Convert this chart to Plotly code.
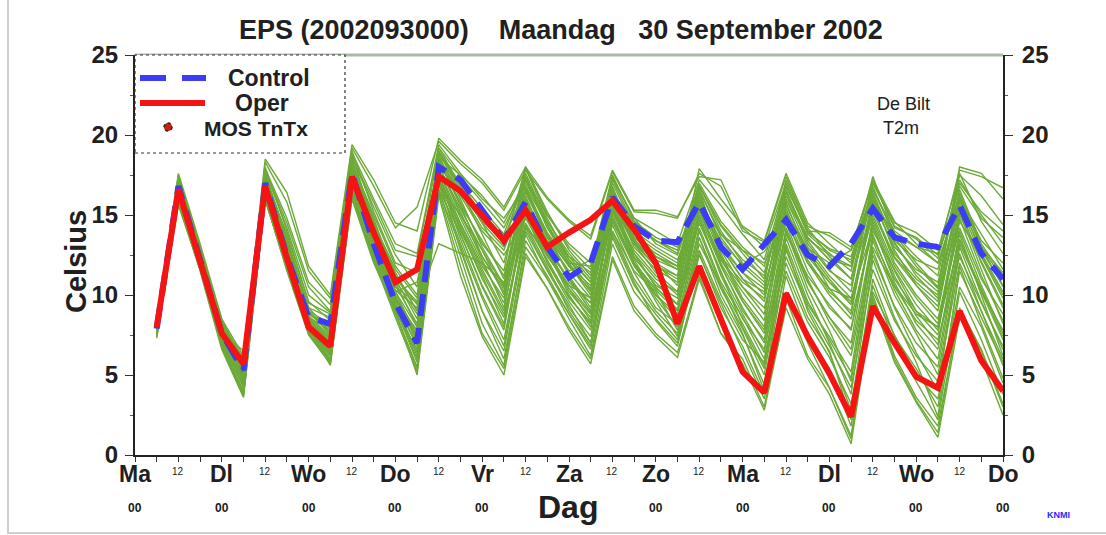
import plotly.graph_objects as go

# ---------------- data ----------------
forecast_hours = [6, 12, 18, 24, 30, 36, 42, 48, 54, 60, 66, 72, 78, 84, 90, 96, 102, 108, 114, 120,
                  126, 132, 138, 144, 150, 156, 162, 168, 174, 180, 186, 192, 198, 204, 210, 216, 222, 228, 234, 240]

control = [7.9, 16.8, 12.2, 7.6, 5.3, 17.0, 12.4, 8.6, 8.2, 17.6, 13.2, 9.5, 7.0, 18.0, 17.2, 15.3, 13.4, 15.8, 13.0, 11.1,
           12.0, 16.1, 14.3, 13.4, 13.3, 15.8, 13.0, 11.6, 13.1, 14.7, 12.5, 11.8, 13.2, 15.4, 13.6, 13.2, 13.0, 15.6, 12.6, 11.0]

oper = [8.0, 16.6, 12.1, 7.6, 5.7, 16.8, 12.3, 8.0, 6.8, 17.4, 13.9, 10.8, 11.6, 17.4, 16.5, 14.9, 13.4, 15.3, 13.0, 13.9,
        14.7, 15.9, 14.1, 12.0, 8.2, 11.8, 8.6, 5.2, 3.9, 10.1, 7.4, 5.1, 2.4, 9.3, 7.0, 4.9, 4.2, 9.0, 5.9, 4.0]

members = [
    [7.8, 16.9, 12.4, 7.8, 5.2, 17.2, 12.6, 8.8, 8.0, 17.8, 13.4, 9.8, 7.3, 18.3, 17.0, 15.0, 13.2, 16.0, 13.4, 11.5,
     12.2, 16.4, 14.6, 13.6, 13.0, 15.9, 13.4, 11.9, 12.7, 15.0, 12.9, 12.0, 12.8, 15.9, 13.8, 13.0, 12.6, 16.2, 13.0, 11.4],
    [8.2, 17.5, 13.0, 8.2, 5.8, 18.3, 15.8, 11.5, 9.8, 19.2, 16.8, 14.2, 15.5, 19.6, 18.2, 17.0, 15.3, 17.8, 16.0, 14.6,
     13.5, 17.7, 15.2, 15.1, 14.8, 17.6, 16.8, 14.0, 13.3, 17.4, 14.3, 13.7, 12.8, 17.2, 14.2, 13.6, 12.5, 17.8, 17.4, 16.7],
    [8.1, 16.4, 12.0, 7.4, 5.5, 16.6, 12.0, 7.9, 6.5, 17.1, 13.5, 10.2, 10.8, 17.0, 14.2, 11.0, 8.6, 14.5, 12.2, 9.8,
     8.3, 14.0, 11.5, 10.2, 7.8, 12.8, 9.7, 7.2, 5.8, 11.5, 8.3, 6.1, 3.2, 10.2, 7.5, 5.0, 3.5, 10.5, 8.0, 4.5],
    [7.6, 16.0, 11.8, 7.0, 4.4, 16.2, 12.0, 7.6, 6.0, 16.5, 12.6, 9.3, 6.2, 16.8, 15.0, 12.8, 10.5, 15.0, 12.5, 10.4,
     8.8, 15.2, 12.6, 10.5, 9.1, 14.9, 11.2, 8.5, 6.6, 13.2, 9.6, 7.2, 4.8, 12.5, 9.3, 7.0, 5.5, 13.2, 10.2, 7.8],
    [7.9, 17.2, 12.8, 8.3, 6.0, 17.5, 13.2, 9.0, 7.5, 18.2, 14.8, 11.0, 8.5, 19.0, 16.6, 13.8, 11.0, 16.5, 13.8, 11.8,
     10.3, 16.8, 13.5, 12.0, 11.2, 16.8, 14.3, 12.6, 11.0, 16.5, 13.2, 11.5, 10.6, 16.4, 13.3, 11.2, 9.8, 15.0, 12.1, 9.4],
    [7.4, 16.2, 11.6, 6.8, 3.8, 16.0, 11.6, 7.6, 5.8, 16.2, 12.2, 8.8, 5.5, 16.5, 13.0, 9.0, 6.0, 13.0, 11.0, 8.5,
     6.2, 13.2, 10.2, 8.5, 7.0, 12.5, 9.5, 6.5, 3.5, 10.2, 7.0, 4.2, 1.2, 10.0, 6.2, 3.6, 1.8, 9.0, 6.5, 3.0],
    [8.3, 17.0, 12.5, 8.0, 5.0, 17.8, 14.5, 10.5, 9.0, 18.6, 15.5, 12.5, 10.5, 18.6, 17.5, 16.2, 14.5, 17.2, 15.0, 13.2,
     12.0, 16.0, 14.0, 13.0, 12.2, 15.6, 13.8, 12.8, 12.0, 14.6, 12.0, 10.0, 8.5, 14.0, 11.6, 9.4, 7.8, 14.6, 12.5, 10.0],
    [7.7, 16.5, 12.0, 7.5, 5.4, 16.8, 12.5, 8.2, 6.8, 17.3, 13.0, 9.6, 7.8, 17.8, 14.8, 12.0, 9.5, 16.8, 13.2, 10.8,
     9.5, 17.3, 14.8, 14.0, 13.2, 17.2, 15.6, 13.8, 12.2, 17.0, 13.8, 12.6, 11.5, 17.0, 14.3, 13.5, 12.3, 17.0, 15.2, 14.0],
    [8.0, 16.7, 12.3, 7.7, 6.5, 17.0, 12.8, 8.5, 7.2, 17.5, 13.6, 10.3, 9.2, 18.2, 16.2, 14.0, 12.5, 14.8, 12.4, 10.6,
     9.8, 15.4, 12.8, 11.2, 10.0, 15.2, 12.2, 10.5, 9.2, 14.5, 11.0, 8.3, 6.2, 13.0, 10.5, 8.4, 7.2, 12.4, 9.5, 6.8],
    [7.5, 15.8, 11.5, 6.6, 3.6, 15.9, 11.8, 8.0, 5.6, 16.0, 12.0, 9.0, 5.0, 16.2, 11.2, 7.4, 5.0, 12.4, 10.4, 7.8,
     5.7, 12.2, 9.0, 7.4, 6.1, 11.0, 7.6, 5.7, 2.8, 9.2, 6.0, 3.8, 0.7, 9.6, 5.8, 3.3, 1.1, 8.6, 6.0, 2.5],
    [8.0, 17.4, 12.9, 8.5, 5.6, 17.6, 13.6, 9.2, 8.6, 19.0, 15.2, 12.0, 11.4, 19.2, 16.8, 14.5, 13.0, 18.0, 15.0, 13.0,
     11.6, 17.0, 14.2, 12.4, 11.8, 16.4, 12.8, 10.5, 8.8, 15.8, 12.4, 10.8, 9.6, 15.2, 12.3, 10.6, 9.0, 16.0, 13.8, 11.6],
    [7.8, 16.3, 12.1, 7.3, 4.8, 16.5, 11.9, 7.8, 6.2, 16.8, 12.8, 9.0, 6.6, 17.4, 13.5, 10.0, 7.2, 14.0, 11.5, 9.2,
     7.4, 14.6, 11.8, 10.0, 8.5, 14.2, 10.8, 8.6, 6.0, 12.8, 9.4, 7.4, 5.2, 13.8, 10.3, 7.8, 6.0, 13.5, 10.2, 7.2],
    [8.2, 17.0, 12.7, 8.0, 5.9, 18.0, 14.0, 9.5, 8.8, 18.8, 14.4, 11.4, 9.0, 19.0, 16.8, 14.5, 12.0, 17.2, 14.2, 12.4,
     10.8, 16.2, 13.3, 11.8, 11.2, 17.9, 16.0, 14.3, 13.4, 17.6, 14.5, 13.2, 12.0, 17.4, 13.8, 12.0, 10.5, 18.0, 17.6, 16.0],
    [7.6, 16.1, 11.9, 7.2, 4.2, 16.4, 12.1, 7.8, 6.3, 16.6, 13.2, 9.8, 7.5, 17.6, 14.0, 11.2, 8.2, 15.5, 12.6, 10.2,
     8.6, 15.8, 12.4, 10.6, 9.8, 14.5, 11.5, 8.0, 5.4, 14.2, 10.8, 8.6, 7.0, 14.8, 11.5, 9.0, 7.5, 15.2, 11.6, 8.2],
    [8.1, 16.8, 12.4, 7.9, 5.1, 17.3, 12.9, 8.6, 7.8, 18.0, 14.0, 10.8, 8.0, 18.4, 15.8, 13.2, 11.5, 18.0, 15.2, 12.8,
     11.2, 16.6, 13.4, 12.0, 10.6, 15.6, 13.0, 11.0, 10.2, 16.2, 13.6, 12.2, 11.8, 16.2, 12.6, 11.0, 10.0, 16.6, 13.2, 11.2],
    [7.7, 16.6, 12.2, 7.6, 5.5, 16.9, 12.4, 8.3, 6.9, 17.6, 13.4, 10.0, 7.1, 18.0, 15.4, 12.8, 10.0, 16.2, 13.0, 11.0,
     9.0, 15.0, 12.0, 10.4, 9.4, 16.0, 13.0, 11.4, 10.4, 15.4, 12.2, 10.2, 9.0, 15.6, 12.0, 10.0, 8.5, 14.2, 11.0, 8.8],
    [7.9, 16.6, 12.0, 7.6, 5.0, 16.7, 12.2, 8.1, 6.6, 17.2, 13.0, 9.5, 6.8, 17.2, 12.8, 9.0, 6.5, 13.8, 11.0, 8.8,
     6.8, 14.8, 12.0, 9.6, 7.4, 13.6, 10.0, 7.5, 4.4, 12.0, 8.6, 6.5, 2.2, 11.0, 7.4, 5.4, 3.0, 11.5, 8.6, 5.8],
    [8.0, 17.1, 12.6, 8.1, 5.7, 17.4, 13.2, 8.9, 7.6, 18.2, 14.5, 11.6, 9.8, 18.8, 17.0, 15.4, 13.8, 17.6, 14.6, 12.6,
     11.0, 17.4, 14.8, 13.2, 12.5, 16.6, 13.8, 12.2, 11.2, 16.0, 13.5, 12.5, 11.8, 16.6, 13.8, 12.4, 11.2, 17.2, 15.0, 13.2],
    [7.5, 15.9, 11.7, 7.0, 4.0, 16.2, 11.7, 7.7, 5.9, 16.4, 12.4, 9.2, 6.0, 16.6, 13.8, 10.5, 7.8, 15.4, 12.0, 9.6,
     7.8, 15.6, 12.0, 9.8, 8.0, 14.0, 10.6, 7.6, 4.0, 13.6, 10.0, 7.0, 3.8, 12.8, 9.2, 6.4, 4.0, 13.0, 9.6, 6.6],
    [8.4, 17.6, 13.2, 8.5, 6.2, 18.5, 16.4, 11.8, 10.0, 19.4, 17.2, 14.5, 14.0, 19.8, 18.4, 17.2, 15.5, 18.0, 16.1, 14.7,
     13.7, 17.8, 15.3, 15.3, 14.9, 17.4, 17.2, 14.2, 13.0, 17.0, 14.0, 13.9, 13.0, 17.0, 14.5, 13.9, 12.8, 17.5, 16.2, 14.4],
    [7.8, 16.4, 12.1, 7.4, 4.6, 16.3, 12.0, 7.9, 6.4, 16.9, 13.0, 9.4, 7.0, 17.8, 14.4, 11.6, 9.0, 16.0, 12.8, 10.0,
     8.0, 14.4, 11.4, 9.2, 8.2, 15.0, 11.8, 9.2, 7.0, 13.8, 11.2, 9.4, 7.8, 14.4, 10.8, 8.2, 6.6, 14.0, 10.6, 7.6],
    [8.1, 17.2, 12.7, 8.2, 5.3, 17.6, 13.0, 8.7, 7.4, 17.9, 14.2, 10.6, 8.2, 18.6, 15.6, 12.4, 10.2, 17.4, 14.2, 11.9,
     10.0, 16.0, 13.0, 11.6, 10.8, 16.2, 12.6, 9.8, 8.0, 15.2, 12.8, 10.4, 8.8, 16.0, 12.8, 10.6, 9.3, 15.6, 12.4, 9.8],
    [7.3, 15.6, 11.6, 6.7, 3.7, 16.0, 11.5, 7.5, 5.7, 16.3, 12.2, 8.6, 5.2, 16.4, 11.8, 7.6, 5.4, 12.6, 10.4, 8.0,
     6.0, 12.4, 9.3, 7.6, 6.4, 11.2, 7.6, 6.0, 3.0, 9.8, 6.2, 4.2, 1.0, 9.8, 6.0, 3.4, 1.4, 9.2, 6.6, 3.2],
    [7.9, 16.7, 12.3, 7.8, 5.2, 17.0, 12.6, 8.4, 7.0, 17.4, 13.8, 10.5, 9.5, 13.2, 12.6, 12.0, 10.8, 14.2, 12.8, 11.0,
     9.5, 15.8, 13.6, 12.4, 11.6, 16.8, 14.4, 12.8, 11.4, 16.4, 13.6, 12.2, 11.0, 15.4, 12.4, 10.8, 9.6, 16.4, 13.0, 10.5],
    [7.7, 16.8, 12.5, 7.9, 5.6, 17.1, 13.0, 8.9, 7.9, 18.4, 14.2, 10.9, 8.8, 18.7, 16.0, 13.0, 10.6, 17.9, 14.8, 12.2,
     10.4, 16.3, 13.6, 12.6, 11.8, 16.0, 13.0, 11.0, 9.6, 15.6, 12.8, 11.0, 9.4, 15.8, 13.0, 11.6, 10.8, 15.8, 12.8, 10.6],
    [7.6, 16.3, 11.9, 7.3, 4.9, 16.6, 12.2, 8.0, 6.6, 17.0, 13.3, 9.9, 7.7, 17.4, 14.5, 11.8, 9.8, 15.8, 12.9, 10.4,
     8.4, 15.2, 12.3, 10.8, 9.4, 15.3, 11.9, 9.0, 7.2, 14.8, 11.5, 9.2, 7.9, 14.6, 11.2, 8.7, 6.9, 13.8, 10.0, 6.2],
    [8.0, 16.9, 12.6, 8.0, 5.4, 17.3, 13.8, 9.6, 8.4, 18.3, 15.0, 11.8, 10.0, 18.5, 16.4, 14.2, 12.8, 16.4, 13.6, 11.8,
     10.6, 16.6, 13.8, 12.8, 12.0, 16.9, 14.0, 12.0, 10.8, 17.2, 14.2, 12.4, 11.0, 16.8, 13.6, 11.8, 10.4, 17.6, 14.6, 12.6],
    [7.5, 16.1, 11.8, 7.1, 4.3, 16.1, 11.9, 7.9, 6.0, 16.3, 12.5, 9.1, 5.8, 16.9, 13.2, 9.8, 6.8, 14.4, 11.8, 9.0,
     7.0, 14.0, 11.0, 9.0, 7.6, 13.6, 10.4, 7.9, 5.0, 13.0, 9.0, 6.4, 2.8, 12.2, 8.6, 5.8, 2.4, 11.8, 8.2, 4.8],
    [7.9, 17.0, 12.6, 8.1, 5.8, 17.7, 14.2, 10.0, 8.9, 18.6, 15.8, 12.8, 12.4, 19.2, 17.4, 15.8, 14.2, 17.0, 14.6, 12.4,
     11.4, 17.2, 14.4, 13.4, 12.8, 16.2, 13.2, 11.4, 10.0, 16.8, 14.0, 12.8, 12.2, 16.2, 13.4, 12.2, 11.6, 16.8, 14.8, 13.6],
    [7.8, 16.5, 12.2, 7.6, 5.1, 16.8, 12.3, 8.3, 6.9, 17.7, 13.8, 10.2, 7.4, 18.1, 15.2, 12.2, 9.2, 15.6, 12.7, 10.6,
     8.9, 14.8, 11.9, 10.3, 9.0, 14.7, 11.4, 8.8, 6.4, 14.0, 10.4, 7.8, 4.6, 13.4, 10.0, 7.6, 5.0, 12.6, 9.0, 5.6],
    [8.2, 17.3, 12.8, 8.3, 6.0, 17.9, 14.8, 10.8, 9.4, 18.9, 16.0, 13.2, 12.6, 19.4, 17.6, 16.0, 14.8, 16.8, 14.4, 12.2,
     10.8, 15.6, 13.2, 12.2, 11.6, 15.4, 12.2, 10.2, 8.4, 16.6, 13.4, 11.6, 10.2, 17.2, 14.6, 13.2, 12.0, 16.2, 13.0, 11.0],
    [7.6, 16.2, 12.0, 7.2, 4.5, 16.4, 12.1, 7.9, 6.2, 16.8, 12.9, 9.4, 6.4, 17.2, 13.8, 10.6, 8.0, 15.0, 12.0, 9.9,
     8.2, 15.4, 12.2, 10.0, 8.8, 15.4, 12.0, 9.6, 7.6, 14.0, 10.8, 8.6, 6.6, 13.6, 10.6, 8.8, 8.0, 14.8, 11.2, 8.4],
    [8.0, 16.8, 12.4, 7.8, 5.3, 17.2, 13.4, 9.2, 7.7, 17.8, 14.0, 11.0, 9.6, 18.9, 16.4, 14.6, 13.4, 17.4, 14.4, 12.0,
     10.2, 15.8, 12.6, 11.0, 10.2, 15.8, 12.4, 10.8, 9.8, 15.0, 12.0, 10.4, 9.8, 14.2, 11.0, 9.0, 8.0, 13.4, 10.4, 7.4],
    [7.7, 16.4, 12.0, 7.4, 4.7, 16.5, 12.0, 7.8, 6.4, 17.0, 13.0, 9.7, 7.2, 17.4, 14.2, 11.4, 8.8, 14.2, 11.6, 9.4,
     7.0, 13.6, 10.6, 8.8, 7.2, 13.2, 10.6, 8.2, 5.6, 12.4, 9.2, 6.8, 4.2, 11.6, 8.4, 6.2, 4.6, 12.0, 9.0, 6.0],
    [8.1, 17.1, 12.6, 8.0, 5.5, 17.4, 13.4, 9.0, 8.2, 18.4, 14.6, 11.2, 9.0, 18.0, 16.6, 15.0, 13.6, 16.6, 13.9, 12.0,
     11.8, 17.5, 14.6, 13.4, 12.6, 17.0, 14.6, 13.0, 11.8, 16.8, 13.9, 12.9, 12.4, 16.6, 14.0, 13.0, 12.0, 16.0, 13.4, 12.0],
    [7.4, 15.9, 11.6, 6.9, 3.9, 16.0, 11.6, 7.6, 5.7, 16.2, 12.3, 8.9, 5.4, 16.6, 12.4, 8.2, 5.6, 13.4, 11.2, 8.8,
     6.6, 13.8, 10.8, 8.4, 6.8, 12.6, 9.2, 6.8, 3.8, 11.2, 7.6, 5.4, 1.8, 10.6, 7.0, 4.6, 2.2, 10.2, 7.2, 3.8],
    [7.9, 16.6, 12.3, 7.7, 5.2, 17.0, 12.8, 8.6, 7.3, 17.9, 14.4, 11.2, 9.4, 18.4, 15.6, 13.4, 11.2, 16.6, 13.6, 11.4,
     9.8, 16.0, 13.2, 11.8, 11.0, 16.6, 13.6, 11.8, 10.6, 15.2, 12.6, 10.8, 9.4, 16.2, 13.2, 11.4, 10.2, 16.0, 12.6, 10.2],
    [7.8, 16.7, 12.3, 7.7, 5.4, 17.0, 12.6, 8.4, 7.1, 17.6, 13.6, 10.2, 8.0, 18.1, 15.0, 12.4, 10.4, 16.8, 13.8, 11.2,
     9.2, 16.4, 13.2, 11.4, 10.2, 16.6, 12.4, 9.6, 7.8, 16.0, 13.0, 11.2, 9.8, 15.0, 11.8, 9.8, 8.2, 15.4, 12.0, 9.2],
]

day_labels = ["Ma", "Dl", "Wo", "Do", "Vr", "Za", "Zo", "Ma", "Dl", "Wo", "Do"]
day_hours = [0, 24, 48, 72, 96, 120, 144, 168, 192, 216, 240]
midnight_hours = [0, 24, 48, 72, 96, 144, 168, 192, 216, 240]   # the one under "Dag" is hidden
noon_hours = [12, 36, 60, 84, 108, 132, 156, 180, 204, 228]
noon_label = "12"
midnight_label = "00"
tick_hours = list(range(0, 241, 6))
y_ticks = [0, 5, 10, 15, 20, 25]

title_text = "EPS (2002093000)\u00a0\u00a0\u00a0\u00a0Maandag\u00a0\u00a0\u00a030 September 2002"

# ---------------- geometry helpers (pixels -> paper) ----------------
W, H = 1106, 535
L, R, T, B = 135, 1003, 55, 455


def px(xp):
    return (xp - L) / (R - L)


def py(yp):
    return (B - yp) / (B - T)


FONT = "Liberation Sans, Arial, sans-serif"
GREEN = "rgb(108,170,56)"
BLUE = "rgb(60,60,245)"
RED = "rgb(245,20,20)"
INK = "#202020"

fig = go.Figure()

for m in members:
    fig.add_trace(go.Scatter(x=forecast_hours, y=m, mode="lines",
                             line=dict(color=GREEN, width=1.4), showlegend=False, hoverinfo="skip"))

fig.add_trace(go.Scatter(x=forecast_hours, y=control, mode="lines", name="Control",
                         line=dict(color=BLUE, width=6, dash="22px,12px"), showlegend=False))
fig.add_trace(go.Scatter(x=forecast_hours, y=oper, mode="lines", name="Oper",
                         line=dict(color=RED, width=6), showlegend=False))
# right-hand axis companion (MOS TnTx has no values in this chart)
fig.add_trace(go.Scatter(x=[forecast_hours[0]], y=[None], yaxis="y2", mode="markers", name="MOS TnTx",
                         marker=dict(color="rgb(200,30,20)", size=10), showlegend=False))

annotations = []
annotations.append(dict(text="<b>" + title_text + "</b>", x=px(561), y=py(30), xref="paper", yref="paper",
                        showarrow=False, font=dict(family=FONT, size=27, color=INK),
                        xanchor="center", yanchor="middle"))

for h, lab in zip(day_hours, day_labels):
    annotations.append(dict(text="<b>" + lab + "</b>", x=h, y=py(474), xref="x", yref="paper",
                            showarrow=False, font=dict(family=FONT, size=23, color=INK),
                            xanchor="center", yanchor="middle"))
for h in midnight_hours:
    annotations.append(dict(text="<b>" + midnight_label + "</b>", x=h, y=py(508), xref="x", yref="paper",
                            showarrow=False, font=dict(family=FONT, size=12, color=INK),
                            xanchor="center", yanchor="middle"))
for h in noon_hours:
    annotations.append(dict(text=noon_label, x=h, y=py(471), xref="x", yref="paper",
                            showarrow=False, font=dict(family=FONT, size=10, color=INK),
                            xanchor="center", yanchor="middle"))

annotations.append(dict(text="<b>Dag</b>", x=px(568), y=py(507), xref="paper", yref="paper", showarrow=False,
                        font=dict(family=FONT, size=32, color=INK), xanchor="center", yanchor="middle"))
annotations.append(dict(text="<b>Celsius</b>", x=px(76), y=py(262), xref="paper", yref="paper", showarrow=False,
                        textangle=-90, font=dict(family=FONT, size=29, color=INK),
                        xanchor="center", yanchor="middle"))
annotations.append(dict(text="De Bilt", x=px(903), y=py(104), xref="paper", yref="paper", showarrow=False,
                        font=dict(family=FONT, size=18, color=INK), xanchor="center", yanchor="middle"))
annotations.append(dict(text="T2m", x=px(901), y=py(128), xref="paper", yref="paper", showarrow=False,
                        font=dict(family=FONT, size=18, color=INK), xanchor="center", yanchor="middle"))
annotations.append(dict(text="<b>KNMI</b>", x=px(1058), y=py(515), xref="paper", yref="paper", showarrow=False,
                        font=dict(family=FONT, size=9, color="rgb(40,40,255)"), xanchor="center", yanchor="middle"))

# legend texts
annotations.append(dict(text="<b>Control</b>", x=px(269), y=py(78), xref="paper", yref="paper", showarrow=False,
                        font=dict(family=FONT, size=23, color=INK), xanchor="center", yanchor="middle"))
annotations.append(dict(text="<b>Oper</b>", x=px(262), y=py(103), xref="paper", yref="paper", showarrow=False,
                        font=dict(family=FONT, size=23, color=INK), xanchor="center", yanchor="middle"))
annotations.append(dict(text="<b>MOS TnTx</b>", x=px(256), y=py(128), xref="paper", yref="paper", showarrow=False,
                        font=dict(family=FONT, size=21, color=INK), xanchor="center", yanchor="middle"))

shapes = []
# outer light frame
shapes.append(dict(type="rect", xref="paper", yref="paper", x0=px(8), x1=px(1120), y0=py(533), y1=py(-10),
                   line=dict(color="rgb(200,210,200)", width=2), layer="below"))
# top border of plot
shapes.append(dict(type="line", xref="paper", yref="paper", x0=0, x1=1, y0=1, y1=1,
                   line=dict(color="rgb(170,185,170)", width=3)))
# legend box
shapes.append(dict(type="rect", xref="paper", yref="paper", x0=px(135), x1=px(345), y0=py(153), y1=py(55),
                   fillcolor="white", line=dict(color="#333333", width=1.2, dash="dot"), layer="above"))
shapes.append(dict(type="line", xref="paper", yref="paper", x0=px(140), x1=px(206), y0=py(78), y1=py(78),
                   line=dict(color=BLUE, width=6, dash="26px,16px")))
shapes.append(dict(type="line", xref="paper", yref="paper", x0=px(140), x1=px(205), y0=py(103), y1=py(103),
                   line=dict(color=RED, width=6)))
shapes.append(dict(type="circle", xref="paper", yref="paper", x0=px(164), x1=px(172), y0=py(131), y1=py(123),
                   fillcolor="rgb(200,30,20)", line=dict(color="#222222", width=1.5, dash="dot")))

fig.update_layout(
    width=W, height=H,
    margin=dict(l=L, r=W - R, t=T, b=H - B, pad=0),
    paper_bgcolor="white", plot_bgcolor="white",
    showlegend=False,
    xaxis=dict(range=[0, 240], tickvals=tick_hours, ticks="outside", ticklen=5, tickwidth=1,
               tickcolor="#333333", showticklabels=False, showline=True, linecolor="#222222",
               linewidth=2, showgrid=False, zeroline=False, fixedrange=True),
    yaxis=dict(range=[0, 25], tickvals=y_ticks, ticks="outside", ticklen=8, tickwidth=1, tickcolor="#333333",
               showline=True, linecolor="#222222", linewidth=2, showgrid=False, zeroline=False,
               tickfont=dict(family=FONT, size=24, color=INK, weight="bold"),
               minor=dict(dtick=2.5, ticks="outside", ticklen=3, tickcolor="#555555"),
               ticklabelstandoff=2),
    yaxis2=dict(range=[0, 25], tickvals=y_ticks, overlaying="y", side="right", anchor="x",
                ticks="outside", ticklen=8, tickwidth=1, tickcolor="#333333",
                showline=True, linecolor="#222222", linewidth=2, showgrid=False, zeroline=False,
                tickfont=dict(family=FONT, size=24, color=INK, weight="bold"),
                minor=dict(dtick=2.5, ticks="outside", ticklen=3, tickcolor="#555555"),
                ticklabelstandoff=4),
    annotations=annotations,
    shapes=shapes,
)

fig.write_html("out.html")
